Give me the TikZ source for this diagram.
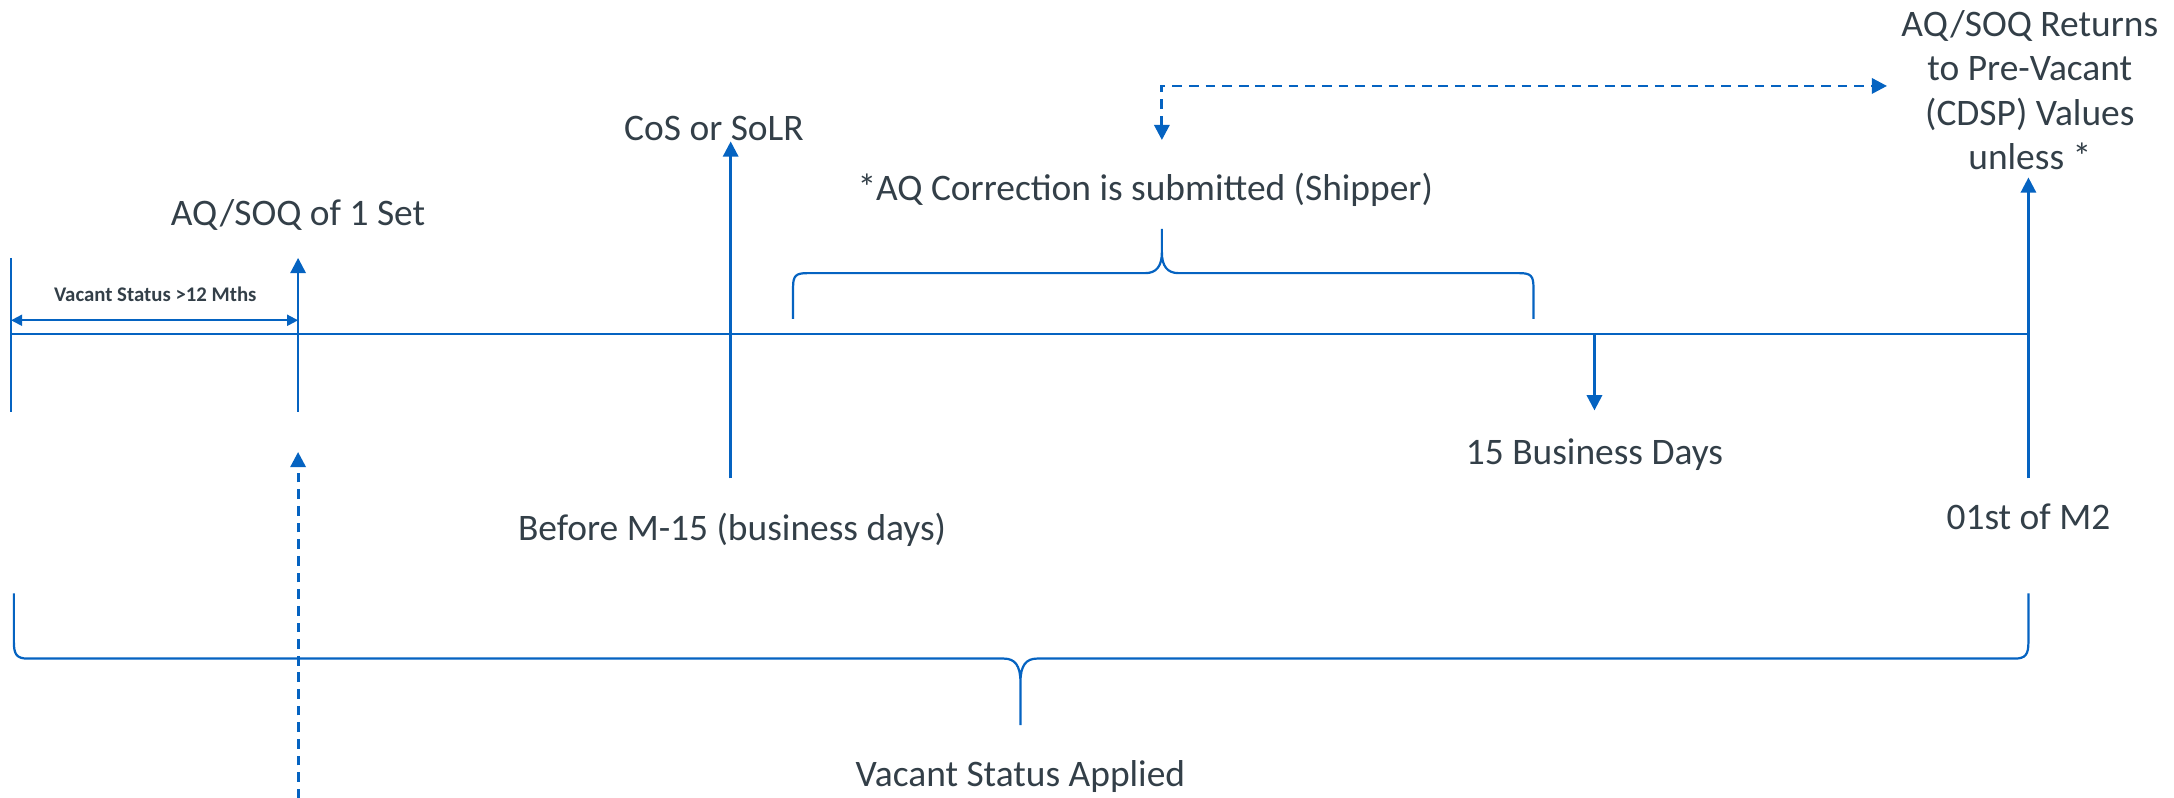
\documentclass[tikz,border=0pt]{standalone}
\usepackage{fontspec}
\setmainfont{Carlito}
\usetikzlibrary{arrows.meta}
\definecolor{tlblue}{RGB}{5,99,193}
\definecolor{txtgrey}{RGB}{51,63,72}
\begin{document}
\begin{tikzpicture}[x=1pt,y=-1pt,
  lbl/.style={text=txtgrey,font=\fontsize{27}{32}\selectfont,inner sep=0pt,align=center},
  smalllbl/.style={text=txtgrey,font=\fontsize{15}{18}\selectfont\bfseries,inner sep=0pt},
  tline/.style={draw=tlblue,line width=1.4pt},
  brace/.style={draw=tlblue,line width=1.6pt},
  marker/.style={draw=tlblue,line width=1.8pt,-{Triangle[length=11pt,width=11pt]}},
  dmarker/.style={marker,line width=2.1pt,dash pattern=on 7pt off 5pt},
  twoway/.style={draw=tlblue,line width=1.4pt,{Triangle[length=8pt,width=8pt]}-{Triangle[length=8pt,width=8pt]}}
]
\useasboundingbox (0,0) rectangle (1568,575);

% main timeline
\coordinate (L) at (8,241);
\coordinate (R) at (1463,241);
\draw[tline] (L) -- (R);
\coordinate (Ltop) at (8,186);
\coordinate (Lbot) at (8,297);
\draw[tline] (Ltop) -- (Lbot);

% AQ/SOQ of 1 Set
\coordinate (a1b) at (215,297);
\coordinate (a1t) at (215,186);
\draw[marker] (a1b) -- (a1t);
\node[lbl] (aq1) at (215,155) {AQ/SOQ of 1 Set};

% vacant > 12 months
\coordinate (v1) at (8,231);
\coordinate (v2) at (215,231);
\draw[twoway] (v1) -- (v2);
\node[smalllbl] (vs) at (112,212) {Vacant Status >12 Mths};

% dashed arrow from bottom
\coordinate (d1b) at (215,576);
\coordinate (d1t) at (215,326);
\draw[dmarker] (d1b) -- (d1t);

% CoS or SoLR
\coordinate (c1b) at (527,345);
\coordinate (c1t) at (527,102);
\draw[marker] (c1b) -- (c1t);
\node[lbl] (cos) at (515,93) {CoS or SoLR};
\node[lbl] (bm) at (528,382) {Before M-15 (business days)};

% top brace
\draw[brace] (572,230) -- (572,207) .. controls (572,199) and (574,197) .. (582,197)
  -- (826,197) .. controls (834,197) and (838,192) .. (838,182) -- (838,165)
  -- (838,182) .. controls (838,192) and (842,197) .. (850,197)
  -- (1096,197) .. controls (1104,197) and (1106,199) .. (1106,207) -- (1106,230);
\node[lbl] (aqc) at (826,137) {*AQ Correction is submitted (Shipper)};

% dashed elbow
\coordinate (e1) at (838,101);
\coordinate (e2) at (1361,62);
\draw[dmarker,{Triangle[length=11pt,width=11pt]}-{Triangle[length=11pt,width=11pt]}] (e1) |- (e2);

% right end
\node[lbl] (ret) at (1464,65) {AQ/SOQ Returns\\to Pre-Vacant\\(CDSP) Values\\unless *};
\coordinate (r1b) at (1463,345);
\coordinate (r1t) at (1463,128);
\draw[marker] (r1b) -- (r1t);
\node[lbl] (m2) at (1463,373) {01st of M2};

% 15 business days
\coordinate (b1t) at (1150,241);
\coordinate (b1b) at (1150,296);
\draw[marker] (b1t) -- (b1b);
\node[lbl] (bd) at (1150,328) {15 Business Days};

% bottom brace
\draw[brace] (10,428) -- (10,463) .. controls (10,472) and (12,475) .. (20,475)
  -- (724,475) .. controls (732,475) and (736,480) .. (736,492) -- (736,523)
  -- (736,492) .. controls (736,480) and (740,475) .. (748,475)
  -- (1453,475) .. controls (1461,475) and (1463,472) .. (1463,463) -- (1463,428);
\node[lbl] (vsa) at (736,560) {Vacant Status Applied};
\end{tikzpicture}
\end{document}
